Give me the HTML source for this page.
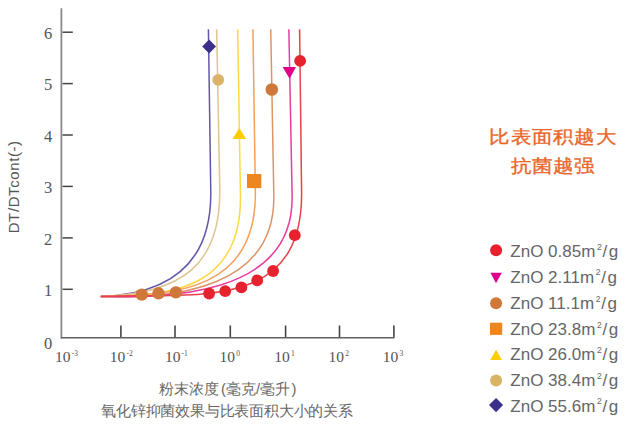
<!DOCTYPE html>
<html><head><meta charset="utf-8"><style>
html,body{margin:0;padding:0;background:#fff;}
body{width:640px;height:429px;overflow:hidden;position:relative;font-family:"Liberation Sans",sans-serif;}
svg{position:absolute;left:0;top:0;}
.tk{font-family:"Liberation Serif",serif;font-size:15.5px;fill:#555;}
.lg{font-family:"Liberation Sans",sans-serif;font-size:17px;fill:#666;}
.cur path{fill:none;stroke-width:1.5;}
.tt{left:453px;width:200px;text-align:center;font-size:21px;color:#e9672a;line-height:29px;letter-spacing:0.25px;-webkit-text-stroke:0.4px #e9672a;transform:scaleY(0.88);transform-origin:center top;}
.cn{position:absolute;white-space:nowrap;font-family:"Liberation Sans",sans-serif;}
</style></head><body>
<svg width="640" height="429" viewBox="0 0 640 429">
<path d="M61.4 8.2 V338.5" stroke="#858585" stroke-width="1.7" fill="none"/>
<path d="M60.9 337.7 H394.6" stroke="#606060" stroke-width="1.6" fill="none"/>
<path d="M62.5 289.3 H72.8" stroke="#444" stroke-width="1.5" fill="none"/>
<path d="M62.5 237.9 H72.8" stroke="#444" stroke-width="1.5" fill="none"/>
<path d="M62.5 186.4 H72.8" stroke="#444" stroke-width="1.5" fill="none"/>
<path d="M62.5 135.0 H72.8" stroke="#444" stroke-width="1.5" fill="none"/>
<path d="M62.5 83.6 H72.8" stroke="#444" stroke-width="1.5" fill="none"/>
<path d="M62.5 32.2 H72.8" stroke="#444" stroke-width="1.5" fill="none"/>
<path d="M120.9 325.5 V337" stroke="#444" stroke-width="1.6" fill="none"/>
<path d="M175.0 325.5 V337" stroke="#444" stroke-width="1.6" fill="none"/>
<path d="M230.3 325.5 V337" stroke="#444" stroke-width="1.6" fill="none"/>
<path d="M285.6 325.5 V337" stroke="#444" stroke-width="1.6" fill="none"/>
<path d="M339.5 325.5 V337" stroke="#444" stroke-width="1.6" fill="none"/>
<path d="M393.9 325.5 V337" stroke="#444" stroke-width="1.6" fill="none"/>
<g class="cur">
<path d="M208.40 29.20 L210.77 191.05 C211.41 234.80 197.51 293.12 100.80 296.60" stroke="#6157a8"/>
<path d="M216.65 29.20 L219.75 187.73 C221.27 265.33 181.83 293.58 100.80 296.60" stroke="#dfc592"/>
<path d="M237.69 29.20 L240.44 195.49 C241.86 281.57 182.02 297.79 100.80 296.60" stroke="#ffd845"/>
<path d="M252.93 29.20 L255.36 191.50 C257.00 300.60 156.35 293.52 100.80 296.60" stroke="#f3a058"/>
<path d="M270.74 29.20 L273.82 195.33 C275.52 286.80 178.24 299.36 100.80 296.60" stroke="#dc9568"/>
<path d="M288.86 29.20 L292.12 195.38 C294.14 298.66 163.28 297.38 100.80 296.60" stroke="#ea3ca0"/>
<path d="M299.59 29.20 L301.60 191.52 C303.11 313.68 193.74 292.36 100.80 296.60" stroke="#ea4048"/>
</g>
<path d="M209.1 39.6 L216 46.5 L209.1 53.4 L202.2 46.5Z" fill="#3b2f8c"/>
<circle cx="218.2" cy="79.9" r="5.9" fill="#d9b366"/>
<path d="M239.3 128 L246.1 139 L232.5 139Z" fill="#ffcc00"/>
<rect x="247" y="174" width="14.3" height="14.1" fill="#ee8620"/>
<circle cx="271.8" cy="89.5" r="6.3" fill="#d0773a"/>
<circle cx="141.8" cy="294.6" r="6.2" fill="#d0773a"/>
<circle cx="158.5" cy="293.3" r="6.2" fill="#d0773a"/>
<circle cx="175.9" cy="292.4" r="6.2" fill="#d0773a"/>
<path d="M282.6 67 L296 67 L289.6 78.8Z" fill="#e0008a"/>
<circle cx="209.1" cy="293.5" r="5.9" fill="#e5222d"/>
<circle cx="225.2" cy="291.2" r="5.9" fill="#e5222d"/>
<circle cx="241.4" cy="287.4" r="5.9" fill="#e5222d"/>
<circle cx="257.2" cy="280.4" r="5.9" fill="#e5222d"/>
<circle cx="273.1" cy="271.0" r="5.9" fill="#e5222d"/>
<circle cx="294.8" cy="235.2" r="5.9" fill="#e5222d"/>
<circle cx="300.1" cy="60.9" r="5.9" fill="#e5222d"/>
<text x="48" y="348.6" class="tk" text-anchor="middle" style="font-size:16.5px">0</text>
<text x="48" y="295.9" class="tk" text-anchor="middle" style="font-size:16.5px">1</text>
<text x="48" y="244.5" class="tk" text-anchor="middle" style="font-size:16.5px">2</text>
<text x="48" y="193.0" class="tk" text-anchor="middle" style="font-size:16.5px">3</text>
<text x="48" y="141.6" class="tk" text-anchor="middle" style="font-size:16.5px">4</text>
<text x="48" y="90.2" class="tk" text-anchor="middle" style="font-size:16.5px">5</text>
<text x="48" y="38.8" class="tk" text-anchor="middle" style="font-size:16.5px">6</text>
<text x="55.0" y="362.3" class="tk">10<tspan dx="1.2" dy="-5.9" font-size="7.5" style="letter-spacing:0">-3</tspan></text>
<text x="109.7" y="362.3" class="tk">10<tspan dx="1.2" dy="-5.9" font-size="7.5" style="letter-spacing:0">-2</tspan></text>
<text x="164.9" y="362.3" class="tk">10<tspan dx="1.2" dy="-5.9" font-size="7.5" style="letter-spacing:0">-1</tspan></text>
<text x="219.6" y="362.3" class="tk">10<tspan dx="1.2" dy="-5.9" font-size="7.5" style="letter-spacing:0">0</tspan></text>
<text x="274.2" y="362.3" class="tk">10<tspan dx="1.2" dy="-5.9" font-size="7.5" style="letter-spacing:0">1</tspan></text>
<text x="328.5" y="362.3" class="tk">10<tspan dx="1.2" dy="-5.9" font-size="7.5" style="letter-spacing:0">2</tspan></text>
<text x="382.7" y="362.3" class="tk">10<tspan dx="1.2" dy="-5.9" font-size="7.5" style="letter-spacing:0">3</tspan></text>
<circle cx="496.1" cy="250.2" r="6.0" fill="#e5222d"/>
<path d="M490.4 272.7 L501.8 272.7 L496 283.2 Z" fill="#e0008a"/>
<circle cx="496.1" cy="303.2" r="6.0" fill="#d0773a"/>
<rect x="490" y="322.7" width="12.2" height="12.2" fill="#ee8620"/>
<path d="M496.05 349.7 L501.9 359.9 L490.2 359.9 Z" fill="#ffcc00"/>
<circle cx="496.1" cy="380.6" r="6.0" fill="#d9b366"/>
<path d="M496.05 398 L503.1 405.1 L496.05 412.2 L489 405.1 Z" fill="#3b2f8c"/>
<text x="510.3" y="257.1" class="lg">ZnO 0.85<tspan>m</tspan><tspan dx="1.6" dy="-7.5" font-size="8.5">2</tspan><tspan dx="0.8" dy="7.5">/</tspan><tspan dx="1.5">g</tspan></text>
<text x="510.3" y="282.9" class="lg">ZnO 2.11<tspan>m</tspan><tspan dx="1.6" dy="-7.5" font-size="8.5">2</tspan><tspan dx="0.8" dy="7.5">/</tspan><tspan dx="1.5">g</tspan></text>
<text x="510.3" y="309.1" class="lg">ZnO 11.1<tspan>m</tspan><tspan dx="1.6" dy="-7.5" font-size="8.5">2</tspan><tspan dx="0.8" dy="7.5">/</tspan><tspan dx="1.5">g</tspan></text>
<text x="510.3" y="335.0" class="lg">ZnO 23.8<tspan>m</tspan><tspan dx="1.6" dy="-7.5" font-size="8.5">2</tspan><tspan dx="0.8" dy="7.5">/</tspan><tspan dx="1.5">g</tspan></text>
<text x="510.3" y="360.2" class="lg">ZnO 26.0<tspan>m</tspan><tspan dx="1.6" dy="-7.5" font-size="8.5">2</tspan><tspan dx="0.8" dy="7.5">/</tspan><tspan dx="1.5">g</tspan></text>
<text x="510.3" y="386.0" class="lg">ZnO 38.4<tspan>m</tspan><tspan dx="1.6" dy="-7.5" font-size="8.5">2</tspan><tspan dx="0.8" dy="7.5">/</tspan><tspan dx="1.5">g</tspan></text>
<text x="510.3" y="411.7" class="lg">ZnO 55.6<tspan>m</tspan><tspan dx="1.6" dy="-7.5" font-size="8.5">2</tspan><tspan dx="0.8" dy="7.5">/</tspan><tspan dx="1.5">g</tspan></text>
<text transform="translate(19 186.8) rotate(-90)" text-anchor="middle" class="tk" style="font-family:&quot;Liberation Sans&quot;,sans-serif;font-size:15px;letter-spacing:0.6px">DT/DTcont(-)</text>
</svg>
<div class="cn" style="left:158.6px;top:379px;font-size:14.7px;color:#666;line-height:20px">粉末浓度<span style="margin:0 0 0 2.5px">(</span>毫克/毫升<span style="margin-left:1.5px">)</span></div>
<div class="cn" style="left:101.3px;top:401px;font-size:15px;letter-spacing:-0.21px;color:#666;line-height:20px">氧化锌抑菌效果与比表面积大小的关系</div>
<div class="cn tt" style="top:124.1px">比表面积越大</div>
<div class="cn tt" style="top:153.2px">抗菌越强</div>
</body></html>
